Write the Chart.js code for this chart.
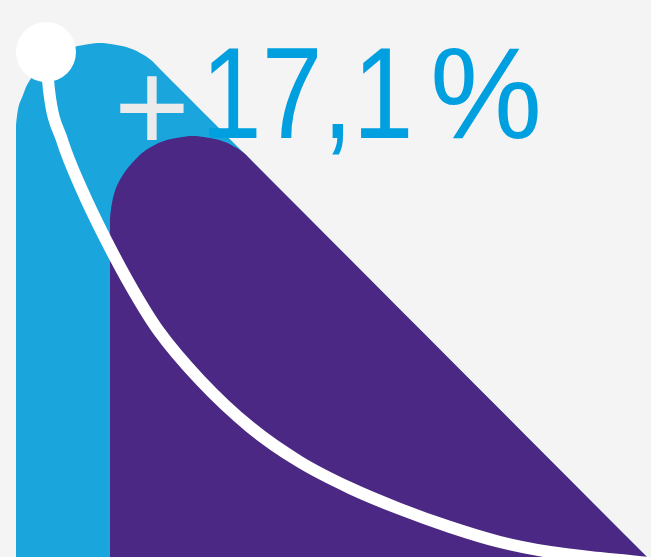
<!DOCTYPE html>
<html>
<head>
<meta charset="utf-8">
<script src="https://cdn.jsdelivr.net/npm/chart.js@4.4.1/dist/chart.umd.min.js"></script>
<style>
  html, body { margin: 0; padding: 0; background: #f4f4f4; }
  #wrap { position: relative; width: 651px; height: 557px; overflow: hidden; }
  #chart { position: absolute; left: 0; top: 0; }
  .big { position: absolute; font-family: "Liberation Sans", Arial, sans-serif; font-size: 130px; line-height: 130px; white-space: pre; transform-origin: 0 0; }
</style>
</head>
<body>
<div id="wrap">
  <canvas id="chart" width="651" height="557"></canvas>
  <div class="big" id="plus" style="left:114px; top:41px; color:#ebebeb;">+</div>
  <div class="big" id="num" style="left:201px; top:28px; color:#009fdf; transform:scaleX(0.84);">17,1</div>
  <div class="big" id="pct" style="left:430px; top:28px; color:#009fdf; transform:scaleX(0.97);">%</div>
</div>
<script>
// outline of the light blue shape (x, y in picture units, y grows downward)
const blueX = [16, 16, 17, 19, 23, 27, 33, 41, 49, 58, 68, 78, 89, 100, 111, 122, 132, 142, 151, 159, 647];
const blueY = [557, 127, 116, 105, 95, 85, 76, 68, 60, 54, 49, 46, 44, 43, 44, 46, 49, 54, 60, 68, 557];

// outline of the purple shape
const purpleX = [110, 110, 111, 113, 116, 121, 127, 134, 142, 151, 161, 171, 182, 193, 204, 215, 225, 235, 244, 252, 647];
const purpleY = [557, 220, 209, 198, 188, 178, 169, 161, 153, 147, 142, 139, 137, 136, 137, 139, 142, 147, 153, 161, 557];

// white trend curve
const curveX = [46, 49, 62, 82, 106, 133, 158, 200, 250, 300, 350, 400, 450, 500, 550, 600, 651];
const curveY = [52, 90, 140, 190, 240, 290, 330, 380, 427, 462, 488, 509, 527, 542, 552, 558, 563];

// start dot
const dotX = [46];
const dotY = [52];

const ctx = document.querySelector('#chart');

function pts(xs, ys) {
    return xs.map((x, i) => ({ x: x, y: ys[i] }));
}

let chart = new Chart(ctx, {
    type: 'scatter',
    data: {
        datasets: [{
            label: 'dot',
            data: pts(dotX, dotY),
            pointRadius: 30,
            pointBackgroundColor: '#ffffff',
            pointBorderWidth: 0,
            showLine: false,
            clip: false,
            order: 0
        }, {
            label: 'curve',
            data: pts(curveX, curveY),
            showLine: true,
            borderColor: '#ffffff',
            borderWidth: 12,
            pointRadius: 0,
            cubicInterpolationMode: 'monotone',
            fill: false,
            order: 1
        }, {
            label: 'purple',
            data: pts(purpleX, purpleY),
            showLine: true,
            borderWidth: 0,
            pointRadius: 0,
            tension: 0.3,
            backgroundColor: '#4a2883',
            fill: { value: 557 },
            order: 2
        }, {
            label: 'blue',
            data: pts(blueX, blueY),
            showLine: true,
            borderWidth: 0,
            pointRadius: 0,
            tension: 0.3,
            backgroundColor: '#1aa5dd',
            fill: { value: 557 },
            order: 3
        }]
    },
    options: {
        responsive: false,
        animation: false,
        layout: { padding: 0, autoPadding: false },
        plugins: { legend: { display: false }, tooltip: { enabled: false } },
        scales: {
            x: { type: 'linear', min: 0, max: 651, display: false },
            y: { type: 'linear', min: 0, max: 557, reverse: true, display: false }
        }
    }
});
</script>
</body>
</html>
